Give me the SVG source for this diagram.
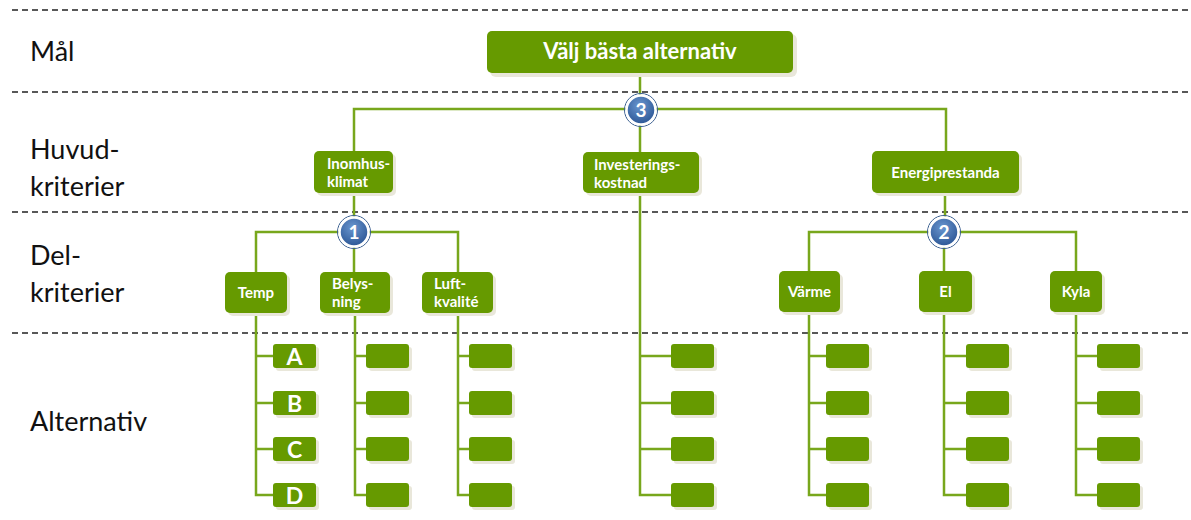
<svg xmlns="http://www.w3.org/2000/svg" width="1191" height="520" viewBox="0 0 1191 520">
<defs>
<radialGradient id="blue" cx="45%" cy="35%" r="65%">
<stop offset="0" stop-color="#6a96cf"/>
<stop offset="1" stop-color="#2c5796"/>
</radialGradient>
<style>
.dash{stroke:#222;stroke-width:1.6;stroke-dasharray:6 4;fill:none}
.lbl{font-family:Lato,"Open Sans",sans-serif;font-size:27px;fill:#111}
.con{stroke:#78a71c;stroke-width:2.5;fill:none}
.box{fill:#669a00}
.sh{fill:#e9e7da}
.nt{font-family:Lato,"Open Sans",sans-serif;font-weight:bold;font-size:15px;fill:#fff}
.title{font-family:Lato,"Open Sans",sans-serif;font-weight:bold;font-size:22px;fill:#fff}
.let{font-family:Lato,"Open Sans",sans-serif;font-weight:bold;font-size:23px;fill:#fff}
.num{font-family:Lato,"Open Sans",sans-serif;font-weight:bold;font-size:19px;fill:#fff}
.c{fill:url(#blue);stroke:#fff;stroke-width:2.5}
.co{fill:none;stroke:#3b5f90;stroke-width:1}
</style>
</defs>
<rect width="1191" height="520" fill="#fff"/>
<g id="bands">
<line class="dash" x1="12" y1="10" x2="1191" y2="10"/>
<line class="dash" x1="12" y1="92" x2="1191" y2="92"/>
<line class="dash" x1="12" y1="212" x2="1191" y2="212"/>
<line class="dash" x1="12" y1="333" x2="1191" y2="333"/>
<text class="lbl" x="30" y="61">Mål</text>
<text class="lbl" x="30" y="159">Huvud-</text>
<text class="lbl" x="30" y="196">kriterier</text>
<text class="lbl" x="30" y="265">Del-</text>
<text class="lbl" x="30" y="302">kriterier</text>
<text class="lbl" x="30" y="431">Alternativ</text>
</g>
<g id="connectors">
<path class="con" d="M640 73V109M354 151V109H946V151M640 109V152"/>
<path class="con" d="M354 193V232M256 272V232H458V272M354 232V272"/>
<path class="con" d="M945 193V232M809 271V232H1076V271M944 232V271"/>
<path class="con" d="M640 193V495H671M640 356H671M640 403H671M640 449H671"/>
<path class="con" d="M256 313V495H273M256 356H273M256 403H273M256 449H273"/>
<path class="con" d="M355 313V495H366M355 356H366M355 403H366M355 449H366"/>
<path class="con" d="M458 313V495H469M458 356H469M458 403H469M458 449H469"/>
<path class="con" d="M809 312V495H826M809 356H826M809 403H826M809 449H826"/>
<path class="con" d="M944 312V495H966M944 356H966M944 403H966M944 449H966"/>
<path class="con" d="M1076 312V495H1097M1076 356H1097M1076 403H1097M1076 449H1097"/>
</g>
<g id="goal">
<rect class="sh" x="490" y="34" width="307" height="43" rx="6"/>
<rect class="box" x="487" y="31" width="306" height="42" rx="5"/>
<text class="title" x="640" y="59" text-anchor="middle">Välj bästa alternativ</text>
</g>
<g id="c3"><circle class="co" cx="641" cy="110" r="16.5"/><circle class="c" cx="641" cy="110" r="14.5"/><text class="num" x="641" y="117" text-anchor="middle">3</text></g>
<g id="c1"><circle class="co" cx="354" cy="232" r="16.5"/><circle class="c" cx="354" cy="232" r="14.5"/><text class="num" x="354" y="239" text-anchor="middle">1</text></g>
<g id="c2"><circle class="co" cx="944" cy="232" r="16.5"/><circle class="c" cx="944" cy="232" r="14.5"/><text class="num" x="944" y="239" text-anchor="middle">2</text></g>
<g id="inomhus">
<rect class="sh" x="317" y="154" width="79" height="42" rx="5"/>
<rect class="box" x="314" y="151" width="79" height="42" rx="5"/>
<text class="nt" x="327" y="169">Inomhus-</text><text class="nt" x="327" y="187">klimat</text>
</g>
<g id="investering">
<rect class="sh" x="586" y="155" width="116" height="41" rx="5"/>
<rect class="box" x="583" y="152" width="116" height="41" rx="5"/>
<text class="nt" x="594" y="170">Investerings-</text><text class="nt" x="594" y="188">kostnad</text>
</g>
<g id="energi">
<rect class="sh" x="875" y="154" width="147" height="42" rx="5"/>
<rect class="box" x="872" y="151" width="147" height="42" rx="5"/>
<text class="nt" x="945.5" y="178" text-anchor="middle">Energiprestanda</text>
</g>
<g id="temp">
<rect class="sh" x="228" y="275" width="62" height="41" rx="5"/>
<rect class="box" x="225" y="272" width="62" height="41" rx="5"/>
<text class="nt" x="256" y="298" text-anchor="middle">Temp</text>
</g>
<g id="belysning">
<rect class="sh" x="323" y="275" width="70" height="41" rx="5"/>
<rect class="box" x="320" y="272" width="70" height="41" rx="5"/>
<text class="nt" x="332" y="289">Belys-</text><text class="nt" x="332" y="307">ning</text>
</g>
<g id="luft">
<rect class="sh" x="425" y="275" width="71" height="41" rx="5"/>
<rect class="box" x="422" y="272" width="71" height="41" rx="5"/>
<text class="nt" x="434" y="289">Luft-</text><text class="nt" x="434" y="307">kvalité</text>
</g>
<g id="varme">
<rect class="sh" x="782" y="274" width="61" height="41" rx="5"/>
<rect class="box" x="779" y="271" width="61" height="41" rx="5"/>
<text class="nt" x="809.5" y="297" text-anchor="middle">Värme</text>
</g>
<g id="el">
<rect class="sh" x="922" y="274" width="53" height="41" rx="5"/>
<rect class="box" x="919" y="271" width="53" height="41" rx="5"/>
<text class="nt" x="945.5" y="297" text-anchor="middle">El</text>
</g>
<g id="kyla">
<rect class="sh" x="1053" y="274" width="52" height="41" rx="5"/>
<rect class="box" x="1050" y="271" width="52" height="41" rx="5"/>
<text class="nt" x="1076" y="297" text-anchor="middle">Kyla</text>
</g>
<g id="alt-temp">
<rect class="sh" x="276" y="347" width="43" height="24" rx="3"/><rect class="box" x="273" y="344" width="43" height="24" rx="3"/><text class="let" x="294.5" y="365" text-anchor="middle">A</text>
<rect class="sh" x="276" y="394" width="43" height="24" rx="3"/><rect class="box" x="273" y="391" width="43" height="24" rx="3"/><text class="let" x="294.5" y="412" text-anchor="middle">B</text>
<rect class="sh" x="276" y="440" width="43" height="24" rx="3"/><rect class="box" x="273" y="437" width="43" height="24" rx="3"/><text class="let" x="294.5" y="458" text-anchor="middle">C</text>
<rect class="sh" x="276" y="486" width="43" height="24" rx="3"/><rect class="box" x="273" y="483" width="43" height="24" rx="3"/><text class="let" x="294.5" y="504" text-anchor="middle">D</text>
</g>
<g id="alt-belysning">
<rect class="sh" x="369" y="347" width="43" height="24" rx="3"/><rect class="box" x="366" y="344" width="43" height="24" rx="3"/>
<rect class="sh" x="369" y="394" width="43" height="24" rx="3"/><rect class="box" x="366" y="391" width="43" height="24" rx="3"/>
<rect class="sh" x="369" y="440" width="43" height="24" rx="3"/><rect class="box" x="366" y="437" width="43" height="24" rx="3"/>
<rect class="sh" x="369" y="486" width="43" height="24" rx="3"/><rect class="box" x="366" y="483" width="43" height="24" rx="3"/>
</g>
<g id="alt-luft">
<rect class="sh" x="472" y="347" width="43" height="24" rx="3"/><rect class="box" x="469" y="344" width="43" height="24" rx="3"/>
<rect class="sh" x="472" y="394" width="43" height="24" rx="3"/><rect class="box" x="469" y="391" width="43" height="24" rx="3"/>
<rect class="sh" x="472" y="440" width="43" height="24" rx="3"/><rect class="box" x="469" y="437" width="43" height="24" rx="3"/>
<rect class="sh" x="472" y="486" width="43" height="24" rx="3"/><rect class="box" x="469" y="483" width="43" height="24" rx="3"/>
</g>
<g id="alt-investering">
<rect class="sh" x="674" y="347" width="43" height="24" rx="3"/><rect class="box" x="671" y="344" width="43" height="24" rx="3"/>
<rect class="sh" x="674" y="394" width="43" height="24" rx="3"/><rect class="box" x="671" y="391" width="43" height="24" rx="3"/>
<rect class="sh" x="674" y="440" width="43" height="24" rx="3"/><rect class="box" x="671" y="437" width="43" height="24" rx="3"/>
<rect class="sh" x="674" y="486" width="43" height="24" rx="3"/><rect class="box" x="671" y="483" width="43" height="24" rx="3"/>
</g>
<g id="alt-varme">
<rect class="sh" x="829" y="347" width="43" height="24" rx="3"/><rect class="box" x="826" y="344" width="43" height="24" rx="3"/>
<rect class="sh" x="829" y="394" width="43" height="24" rx="3"/><rect class="box" x="826" y="391" width="43" height="24" rx="3"/>
<rect class="sh" x="829" y="440" width="43" height="24" rx="3"/><rect class="box" x="826" y="437" width="43" height="24" rx="3"/>
<rect class="sh" x="829" y="486" width="43" height="24" rx="3"/><rect class="box" x="826" y="483" width="43" height="24" rx="3"/>
</g>
<g id="alt-el">
<rect class="sh" x="969" y="347" width="43" height="24" rx="3"/><rect class="box" x="966" y="344" width="43" height="24" rx="3"/>
<rect class="sh" x="969" y="394" width="43" height="24" rx="3"/><rect class="box" x="966" y="391" width="43" height="24" rx="3"/>
<rect class="sh" x="969" y="440" width="43" height="24" rx="3"/><rect class="box" x="966" y="437" width="43" height="24" rx="3"/>
<rect class="sh" x="969" y="486" width="43" height="24" rx="3"/><rect class="box" x="966" y="483" width="43" height="24" rx="3"/>
</g>
<g id="alt-kyla">
<rect class="sh" x="1100" y="347" width="43" height="24" rx="3"/><rect class="box" x="1097" y="344" width="43" height="24" rx="3"/>
<rect class="sh" x="1100" y="394" width="43" height="24" rx="3"/><rect class="box" x="1097" y="391" width="43" height="24" rx="3"/>
<rect class="sh" x="1100" y="440" width="43" height="24" rx="3"/><rect class="box" x="1097" y="437" width="43" height="24" rx="3"/>
<rect class="sh" x="1100" y="486" width="43" height="24" rx="3"/><rect class="box" x="1097" y="483" width="43" height="24" rx="3"/>
</g>
</svg>
